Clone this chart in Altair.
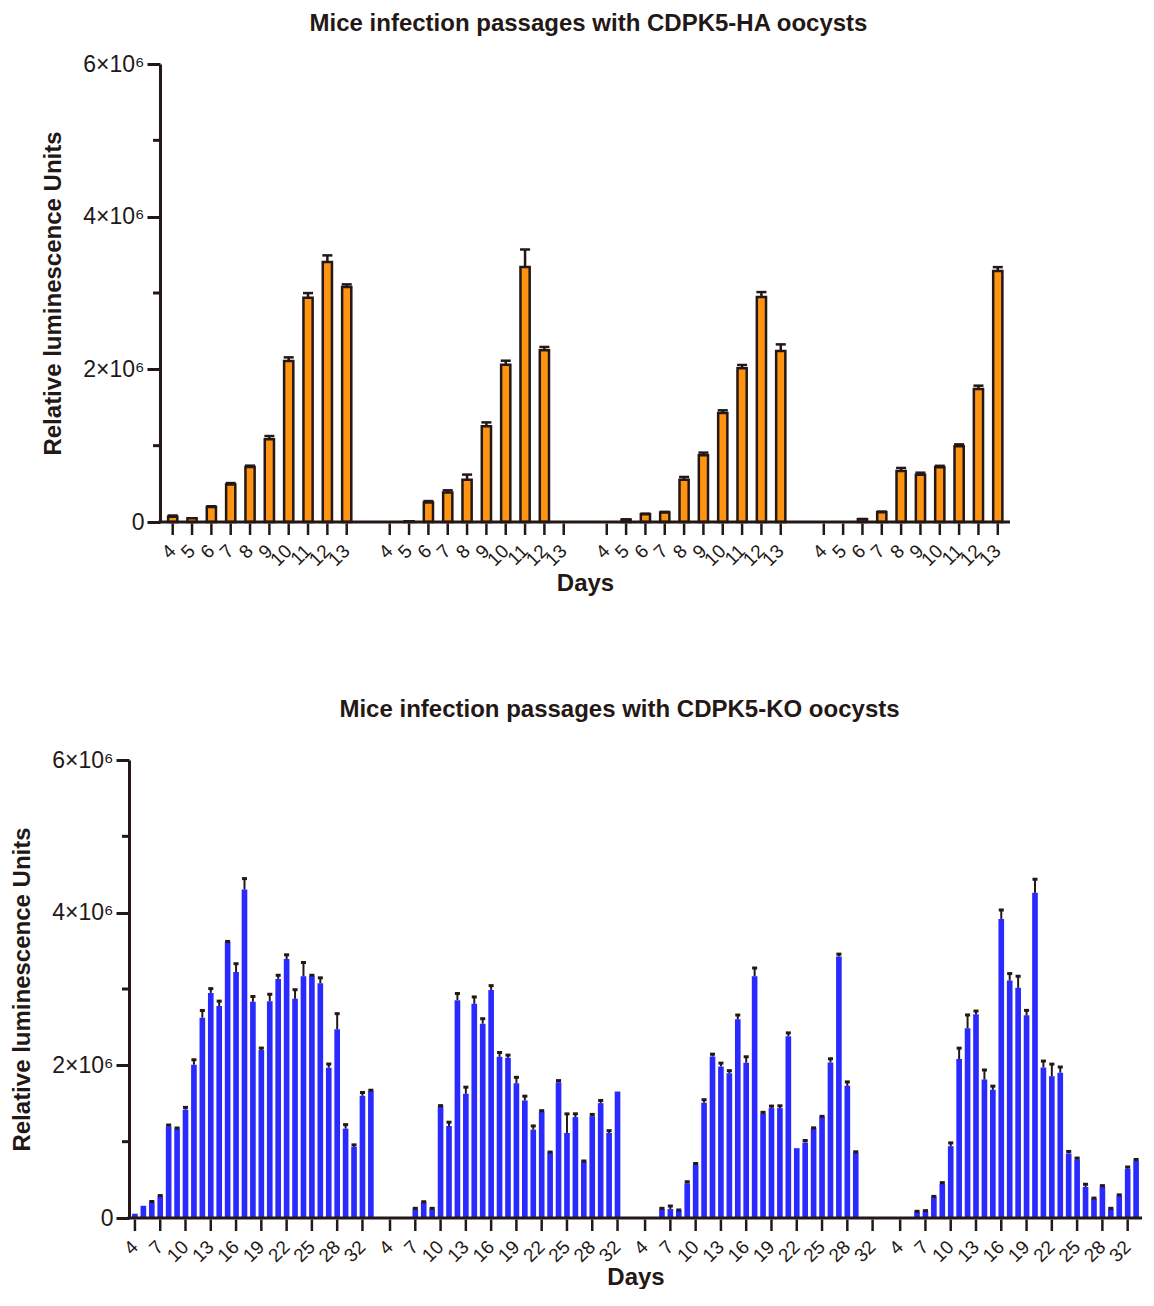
import altair as alt
import pandas as pd

DARK = "#231815"
FONT = "Liberation Sans"
ORANGE = "#ff9412"
BLUE = "#2a2aff"

# ---------------- data (values in units of 10^6 RLU) ----------------
passages = ["P1", "P2", "P3", "P4"]

ha_days = [4, 5, 6, 7, 8, 9, 10, 11, 12, 13]
ha_label_days = [4, 5, 6, 7, 8, 9, 10, 11, 12, 13]
ha_mean = [
    [0.07, 0.05, 0.196, 0.49, 0.72, 1.083, 2.109, 2.939, 3.405, 3.078],
    [0.0, 0.01, 0.254, 0.385, 0.555, 1.253, 2.061, 3.34, 2.249, 0.0],
    [0.0, 0.03, 0.10, 0.123, 0.555, 0.874, 1.428, 2.013, 2.947, 2.24],
    [0.0, 0.0, 0.035, 0.127, 0.668, 0.62, 0.716, 0.991, 1.742, 3.287],
]
ha_err = [
    [0.015, 0.0, 0.01, 0.02, 0.018, 0.043, 0.048, 0.06, 0.088, 0.035],
    [0.0, 0.0, 0.02, 0.03, 0.066, 0.052, 0.052, 0.23, 0.044, 0.0],
    [0.0, 0.005, 0.01, 0.01, 0.035, 0.035, 0.035, 0.044, 0.065, 0.087],
    [0.0, 0.0, 0.005, 0.01, 0.04, 0.026, 0.02, 0.026, 0.044, 0.052],
]

ko_days = [4, 5, 6, 7, 8, 9, 10, 11, 12, 13, 14, 15, 16, 17, 18, 19, 20,
           21, 22, 23, 24, 25, 26, 27, 28, 29, 30, 32, 33]
ko_label_days = [4, 7, 10, 13, 16, 19, 22, 25, 28, 32]
ko_mean = [
    [0.056, 0.16, 0.203, 0.281, 1.201, 1.166, 1.419, 2.008, 2.624, 2.949,
     2.776, 3.613, 3.223, 4.303, 2.832, 2.2, 2.841, 3.132, 3.392, 2.871,
     3.167, 3.167, 3.076, 1.969, 2.473, 1.171, 0.932, 1.601, 1.661],
    [0.0, 0.0, 0.0, 0.117, 0.203, 0.117, 1.462, 1.205, 2.854, 1.627,
     2.806, 2.546, 2.988, 2.112, 2.099, 1.765, 1.54, 1.158, 1.393, 0.854,
     1.778, 1.114, 1.322, 0.737, 1.335, 1.505, 1.114, 1.657, 0.0],
    [0.0, 0.0, 0.117, 0.117, 0.095, 0.455, 0.694, 1.51, 2.116, 1.986,
     1.895, 2.603, 2.034, 3.167, 1.367, 1.44, 1.44, 2.382, 0.915, 0.989,
     1.171, 1.322, 2.038, 3.427, 1.731, 0.854, 0.0, 0.0, 0.0],
    [0.0, 0.0, 0.078, 0.086, 0.273, 0.446, 0.941, 2.082, 2.486, 2.668,
     1.813, 1.679, 3.918, 3.111, 3.015, 2.655, 4.26, 1.973, 1.856, 1.904,
     0.846, 0.768, 0.407, 0.251, 0.411, 0.117, 0.29, 0.646, 0.75],
]
ko_err = [
    [0.0, 0.0, 0.013, 0.013, 0.017, 0.013, 0.03, 0.065, 0.095, 0.056,
     0.065, 0.01, 0.108, 0.143, 0.07, 0.026, 0.09, 0.048, 0.056, 0.12,
     0.18, 0.013, 0.07, 0.048, 0.204, 0.052, 0.026, 0.043, 0.013],
    [0.0, 0.0, 0.0, 0.01, 0.01, 0.01, 0.01, 0.05, 0.087, 0.087,
     0.09, 0.065, 0.056, 0.056, 0.035, 0.078, 0.056, 0.048, 0.013, 0.01,
     0.022, 0.25, 0.043, 0.01, 0.022, 0.035, 0.03, 0.0, 0.0],
    [0.0, 0.0, 0.01, 0.04, 0.01, 0.02, 0.02, 0.04, 0.03, 0.043,
     0.035, 0.056, 0.078, 0.108, 0.017, 0.026, 0.03, 0.043, 0.0, 0.026,
     0.01, 0.01, 0.048, 0.03, 0.052, 0.013, 0.0, 0.0, 0.0],
    [0.0, 0.0, 0.01, 0.01, 0.01, 0.017, 0.043, 0.143, 0.174, 0.043,
     0.126, 0.048, 0.117, 0.091, 0.152, 0.065, 0.178, 0.083, 0.16, 0.074,
     0.026, 0.017, 0.035, 0.01, 0.013, 0.01, 0.013, 0.022, 0.017],
]

y_major = [0, 2e6, 4e6, 6e6]
y_minor = [1e6, 3e6, 5e6]


def make_df(days, means, errs):
    rows = []
    for gi, (m, e) in enumerate(zip(means, errs)):
        for di, (d, mv, ev) in enumerate(zip(days, m, e)):
            rows.append({"passage": passages[gi], "gi": gi, "di": di, "day": d,
                         "mean": mv * 1e6, "hi": (mv + ev) * 1e6,
                         "err": ev * 1e6})
    return pd.DataFrame(rows)


def make_ticks(days, label_days):
    return pd.DataFrame([{"gi": gi, "di": days.index(d), "label": str(d)}
                         for gi in range(len(passages)) for d in label_days])


def panel(df, tick_df, W, H, shift, gstep, dom, bar_half, cap_half, bar_kw,
          err_w, cap_th, title, title_dx, title_off, days_pad):
    # shift: distance (px) of the drawn y axis from the left edge of the plot
    xaxis = alt.Axis(labels=False, ticks=False, grid=False, domain=False,
                     title="Days", titleFontSize=24, titleFontWeight="bold",
                     titleColor=DARK, titleFont=FONT, titlePadding=days_pad,
                     titleX=(shift + W) / 2, titleAlign="center")
    xscale = alt.Scale(domain=dom, nice=False, zero=False)

    def xenc(f):
        return alt.X(f"{f}:Q", scale=xscale, axis=xaxis)

    yaxis = alt.Axis(values=y_major,
                     labelExpr="datum.value == 0 ? '0' : format(datum.value / 1000000, 'd') + '×10⁶'",
                     tickSize=13, tickWidth=3, tickColor=DARK,
                     domainWidth=3, domainColor=DARK,
                     labelFontSize=23, labelFont=FONT, labelColor=DARK,
                     labelPadding=3, grid=False, offset=-shift,
                     title="Relative luminescence Units",
                     titleFontSize=24, titleFontWeight="bold",
                     titleColor=DARK, titleFont=FONT, titlePadding=17)

    def yenc(f):
        return alt.Y(f"{f}:Q", scale=alt.Scale(domain=[0, 6e6], nice=False),
                     axis=yaxis)

    pos = f"datum.gi * {gstep} + datum.di"
    base = alt.Chart(df).transform_calculate(
        pos=pos, x0=f"{pos} - {bar_half}", x1=f"{pos} + {bar_half}",
        c0=f"{pos} - {cap_half}", c1=f"{pos} + {cap_half}")
    bars = base.transform_filter("datum.mean > 0").mark_bar(**bar_kw).encode(
        x=xenc("x0"), x2="x1:Q", y=yenc("mean"), y2=alt.datum(0))
    errs = base.transform_filter("datum.err > 0").mark_rule(
        color=DARK, strokeWidth=err_w).encode(
        x=xenc("pos"), y=yenc("mean"), y2="hi:Q")
    caps = base.transform_filter("datum.err > 0").mark_rule(
        color=DARK, strokeWidth=cap_th).encode(
        x=xenc("c0"), x2="c1:Q", y=yenc("hi"))
    tk = alt.Chart(tick_df).transform_calculate(pos=pos)
    xticks = tk.mark_rule(color=DARK, strokeWidth=2.5).encode(
        x=xenc("pos"), y=alt.value(H + 1.5), y2=alt.value(H + 13))
    xlabels = tk.mark_text(angle=315, align="right", baseline="middle",
                           fontSize=19, font=FONT, color=DARK).encode(
        x=xenc("pos"), y=alt.value(H + 26), text="label:N")
    minor = alt.Chart(pd.DataFrame({"v": y_minor})).mark_rule(
        color=DARK, strokeWidth=3).encode(
        y=yenc("v"), x=alt.value(shift - 7), x2=alt.value(shift))
    # x axis line, drawn from the y axis to the right end of the plot
    baseline = alt.Chart(pd.DataFrame({"v": [0]})).mark_rule(
        color=DARK, strokeWidth=3).encode(
        y=yenc("v"), x=alt.value(shift - 1.5), x2=alt.value(W))
    return alt.layer(bars, errs, caps, xticks, xlabels, minor, baseline).properties(
        width=W, height=H,
        title=alt.TitleParams(title, fontSize=24, fontWeight="bold",
                              font=FONT, color=DARK, anchor="middle",
                              frame="group", dx=title_dx, offset=title_off))


top = panel(make_df(ha_days, ha_mean, ha_err),
            make_ticks(ha_days, ha_label_days),
            W=881, H=458, shift=31, gstep=11.226, dom=[-2.261, 43.31],
            bar_half=0.238, cap_half=0.26,
            bar_kw=dict(color=ORANGE, stroke=DARK, strokeWidth=2.5),
            err_w=2.5, cap_th=2.5,
            title="Mice infection passages with CDPK5-HA oocysts",
            title_dx=19, title_off=17, days_pad=49)

bottom = panel(make_df(ko_days, ko_mean, ko_err),
               make_ticks(ko_days, ko_label_days),
               W=1013, H=458, shift=0, gstep=30.27, dom=[-0.705, 119.51],
               bar_half=0.335, cap_half=0.3,
               bar_kw=dict(color=BLUE),
               err_w=2, cap_th=3,
               title="Mice infection passages with CDPK5-KO oocysts",
               title_dx=-16, title_off=27, days_pad=47)

chart = alt.vconcat(top, bottom, spacing=103).properties(
    padding={"left": 2, "top": 4, "right": 0, "bottom": 0}
).configure(font=FONT).configure_view(strokeWidth=0, stroke="transparent")

chart.save("out.html", embed_options={"renderer": "svg", "actions": False})
